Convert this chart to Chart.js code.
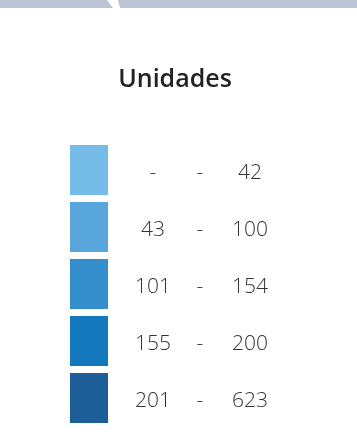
<!DOCTYPE html>
<html>
<head>
<meta charset="utf-8">
<script src="https://cdn.jsdelivr.net/npm/chart.js@4"></script>
<style>
  html, body { margin: 0; padding: 0; background: #fff; }
  #wrap { width: 357px; height: 441px; position: relative; }
</style>
</head>
<body>
<div id="wrap"><canvas id="legendChart"></canvas></div>
<script>
// class breaks for the "Unidades" legend
const legendTitle = 'Unidades';
const rangeLow = ['-', '43', '101', '155', '201'];
const rangeHigh = ['42', '100', '154', '200', '623'];
const classColors = ['#75bce8', '#58a6db', '#358fcc', '#1479bc', '#1d5e98'];
const classPresent = [1, 1, 1, 1, 1];

const FONT = '"Open Sans", sans-serif';

// grey band across the top with a slanted notch, plus the heading
const header = {
  id: 'header',
  beforeDraw(chart) {
    const ctx = chart.ctx;
    ctx.save();
    ctx.fillStyle = '#bcc3d2';
    ctx.beginPath();
    ctx.moveTo(0, 0); ctx.lineTo(107, 0); ctx.lineTo(113, 8); ctx.lineTo(0, 8);
    ctx.closePath(); ctx.fill();
    ctx.beginPath();
    ctx.moveTo(118, 0); ctx.lineTo(357, 0); ctx.lineTo(357, 8); ctx.lineTo(120, 8);
    ctx.closePath(); ctx.fill();

    ctx.font = '600 25px ' + FONT;
    ctx.fillStyle = '#222';
    ctx.textAlign = 'center';
    ctx.textBaseline = 'middle';
    ctx.fillText(legendTitle, 175, 80);
    ctx.restore();
  }
};

// range text next to every swatch
const rangeLabels = {
  id: 'rangeLabels',
  afterDatasetsDraw(chart) {
    const ctx = chart.ctx;
    const y = chart.scales.y;
    ctx.save();
    ctx.font = '300 21px ' + FONT;
    ctx.fillStyle = '#333';
    ctx.textAlign = 'center';
    ctx.textBaseline = 'middle';
    rangeLow.forEach((lo, i) => {
      const py = y.getPixelForValue(i) + 3;
      ctx.fillText(lo, 153, py);
      ctx.fillText('-', 200, py);
      ctx.fillText(rangeHigh[i], 250, py);
    });
    ctx.restore();
  }
};

new Chart(document.getElementById('legendChart'), {
  type: 'bar',
  data: {
    labels: rangeHigh,
    datasets: [{
      data: classPresent,
      backgroundColor: classColors,
      borderWidth: 0,
      barPercentage: 50 / 57,
      categoryPercentage: 1
    }]
  },
  options: {
    indexAxis: 'y',
    responsive: true,
    maintainAspectRatio: false,
    animation: false,
    layout: { padding: { left: 70, right: 249, top: 141.5, bottom: 14.5 } },
    plugins: {
      legend: { display: false },
      tooltip: { enabled: false },
      title: { display: false }
    },
    scales: {
      x: { display: false, min: 0, max: 1 },
      y: { display: false }
    }
  },
  plugins: [header, rangeLabels]
});
</script>
</body>
</html>
